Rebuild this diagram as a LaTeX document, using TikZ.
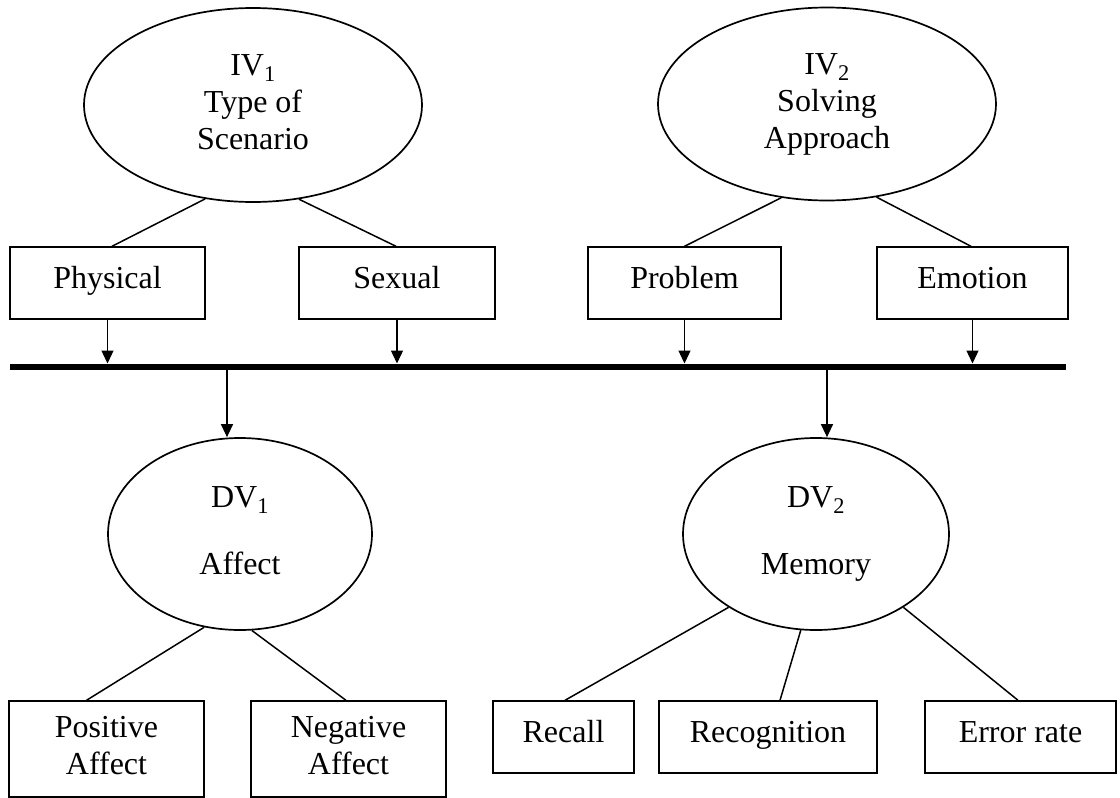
\documentclass[tikz,border=0pt]{standalone}
\usepackage{fontspec}
\setmainfont{Liberation Serif}
\usetikzlibrary{arrows.meta,shapes.geometric}
\begin{document}
\begin{tikzpicture}[x=1pt,y=-1pt,
  every node/.style={font=\fontsize{32}{37}\selectfont},
  oval/.style={draw,ellipse,line width=1.7pt,inner sep=0pt,align=center},
  box/.style={draw,rectangle,line width=1.4pt,inner sep=0pt,align=center},
  onebox/.style={box,text height=18pt,text depth=7pt},
  link/.style={line width=1.5pt},
  arr/.style={line width=1.3pt,-{Triangle[length=13pt,width=12pt]}},
]
\useasboundingbox (0,0) rectangle (1120,798);
\fill[white] (0,0) rectangle (1120,798);

% independent variables
\node[oval,minimum width=338pt,minimum height=194pt] (iv1) at (253,105) {IV\textsubscript{1}\\Type of\\Scenario\vphantom{py}};
\node[oval,minimum width=338pt,minimum height=193pt] (iv2) at (827,104) {IV\textsubscript{2}\\Solving\\Approach\vphantom{py}};

\node[onebox,minimum width=195pt,minimum height=72pt] (phys) at (107.5,283) {Physical};
\node[onebox,minimum width=196pt,minimum height=72pt] (sex) at (397,283) {Sexual};
\node[onebox,minimum width=193pt,minimum height=72pt] (prob) at (684.5,283) {Problem};
\node[onebox,minimum width=191pt,minimum height=72pt] (emo) at (972.5,283) {Emotion};

% bar
\coordinate (barL) at (10,366.5);
\coordinate (barR) at (1066,366.5);
\coordinate (j1) at (227,366.5);
\coordinate (j2) at (827,366.5);
\draw[line width=6pt] (barL) -- (barR);

% dependent variables
\node[oval,minimum width=264pt,minimum height=192pt] (dv1) at (240,534) {DV\textsubscript{1}\\[30pt]Affect\vphantom{py}};
\node[oval,minimum width=266pt,minimum height=192pt] (dv2) at (816,534) {DV\textsubscript{2}\\[30pt]Memory\vphantom{py}};

\node[box,minimum width=195pt,minimum height=96pt] (pos) at (106.5,749) {Positive\\Affect\vphantom{py}};
\node[box,minimum width=195pt,minimum height=96pt] (neg) at (348.5,749) {Negative\\Affect\vphantom{py}};
\node[onebox,minimum width=141pt,minimum height=72pt] (rec) at (563.5,737) {Recall};
\node[onebox,minimum width=218pt,minimum height=72pt] (recog) at (768,737) {Recognition};
\node[onebox,minimum width=191pt,minimum height=72pt] (err) at (1020.5,737) {Error rate};

% links
\draw[link] (iv1.243) -- ([xshift=4.5pt]phys.north);
\draw[link] (iv1.296) -- ([xshift=-1pt]sex.north);
\draw[link] (iv2.244) -- (prob.north);
\draw[link] (iv2.298) -- ([xshift=-1.5pt]emo.north);
\draw[link] (dv1.249) -- ([xshift=-20pt]pos.north);
\draw[link] (dv1.277) -- ([xshift=-2.5pt]neg.north);
\draw[link] (dv2.220) -- ([xshift=1.5pt]rec.north);
\draw[link] (dv2.261) -- ([xshift=12pt]recog.north);
\draw[link] (dv2.320) -- ([xshift=-2.5pt]err.north);

% arrows
\draw[arr,shorten >=3pt] (phys.south) -- (phys.south |- barL);
\draw[arr,shorten >=3pt] (sex.south) -- (sex.south |- barL);
\draw[arr,shorten >=3pt] (prob.south) -- (prob.south |- barL);
\draw[arr,shorten >=3pt] (emo.south) -- (emo.south |- barL);
\draw[arr] (j1) -- (j1 |- dv1.north);
\draw[arr] (j2) -- (j2 |- dv2.north);
\end{tikzpicture}
\end{document}
